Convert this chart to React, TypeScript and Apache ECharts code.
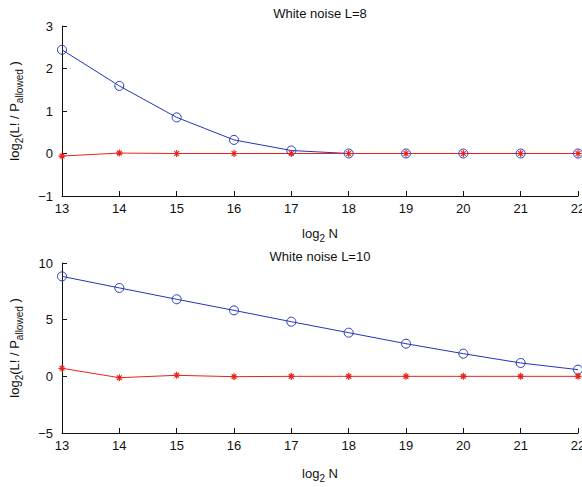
import React, { useEffect, useRef } from "react";
import * as echarts from "echarts";

const logN = [13, 14, 15, 16, 17, 18, 19, 20, 21, 22];
const l8Blue = [2.44, 1.59, 0.85, 0.32, 0.07, 0.0, 0.0, 0.0, 0.0, 0.0];
const l8Red = [-0.06, 0.01, 0.0, 0.0, 0.0, 0.0, 0.0, 0.0, 0.0, 0.0];
const l10Blue = [8.82, 7.8, 6.8, 5.82, 4.82, 3.85, 2.88, 2.0, 1.18, 0.59];
const l10Red = [0.71, -0.12, 0.09, -0.03, 0.0, 0.0, 0.0, 0.0, 0.0, 0.0];
const titles = ["White noise L=8", "White noise L=10"];

const FONT = "'Liberation Sans', Arial, Helvetica, sans-serif";
const BLUE = "#2436b8";
const RED = "#e8231f";
const STAR = "path://M5,0L5,10M0,5L10,5M1.6,1.6L8.4,8.4M1.6,8.4L8.4,1.6";

const fmt = (v: number) => String(v).replace("-", "\u2212");

const rich = {
  a: { fontSize: 13, fontFamily: FONT, color: "#111", lineHeight: 20, verticalAlign: "middle" as const },
  s: { fontSize: 10, fontFamily: FONT, color: "#111", lineHeight: 20, verticalAlign: "bottom" as const },
};

function pairs(ys: number[]) {
  return logN.map((x, i) => [x, ys[i]]);
}

export default function App() {
  const ref = useRef<HTMLDivElement>(null);
  useEffect(() => {
    if (!ref.current) return;
    const chart = echarts.init(ref.current, undefined, { renderer: "svg" });
    const xAxisBase = {
      type: "value" as const,
      min: 13,
      max: 22,
      interval: 1,
      splitLine: { show: false },
      axisLine: { onZero: false, lineStyle: { color: "#111", width: 1 } },
      axisTick: { inside: true, length: 5, lineStyle: { color: "#111" } },
      axisLabel: { fontSize: 13, fontFamily: FONT, color: "#111", margin: 6, formatter: fmt, showMaxLabel: true, hideOverlap: false },
      name: "{a|log}{s|2}{a| N}",
      nameLocation: "middle" as const,
      nameTextStyle: { rich },
    };
    const yAxisBase = {
      type: "value" as const,
      splitLine: { show: false },
      axisLine: { show: true, lineStyle: { color: "#111", width: 1 } },
      axisTick: { show: true, inside: true, length: 5, lineStyle: { color: "#111" } },
      axisLabel: { fontSize: 13, fontFamily: FONT, color: "#111", margin: 9, formatter: fmt },
      name: "{a|log}{s|2}{a|(L! / P}{s|allowed}{a| )}",
      nameLocation: "middle" as const,
      nameGap: 38,
      nameTextStyle: { rich },
    };
    const titleStyle = { fontSize: 13, fontWeight: "normal" as const, fontFamily: FONT, color: "#111" };
    chart.setOption({
      animation: false,
      backgroundColor: "#fff",
      title: [
        { text: titles[0], left: 320, top: 7, padding: 0, textAlign: "center", textStyle: titleStyle },
        { text: titles[1], left: 320, top: 250, padding: 0, textAlign: "center", textStyle: titleStyle },
      ],
      grid: [
        { left: 62, right: 4, top: 26, height: 170, outerBoundsMode: "none", containLabel: false },
        { left: 62, right: 4, top: 263, height: 170, outerBoundsMode: "none", containLabel: false },
      ],
      xAxis: [
        { ...xAxisBase, gridIndex: 0, nameGap: 27 },
        { ...xAxisBase, gridIndex: 1, nameGap: 30 },
      ],
      yAxis: [
        { ...yAxisBase, gridIndex: 0, min: -1, max: 3, interval: 1 },
        { ...yAxisBase, gridIndex: 1, min: -5, max: 10, interval: 5 },
      ],
      series: [
        {
          type: "line", xAxisIndex: 0, yAxisIndex: 0, data: pairs(l8Blue),
          symbol: "circle", symbolSize: 9,
          lineStyle: { color: BLUE, width: 1 },
          itemStyle: { color: "rgba(0,0,0,0)", borderColor: BLUE, borderWidth: 1 },
        },
        {
          type: "line", xAxisIndex: 0, yAxisIndex: 0, data: pairs(l8Red),
          symbol: STAR, symbolSize: 7,
          lineStyle: { color: RED, width: 1 },
          itemStyle: { color: RED, borderColor: RED, borderWidth: 1.2 },
        },
        {
          type: "line", xAxisIndex: 1, yAxisIndex: 1, data: pairs(l10Blue),
          symbol: "circle", symbolSize: 9,
          lineStyle: { color: BLUE, width: 1 },
          itemStyle: { color: "rgba(0,0,0,0)", borderColor: BLUE, borderWidth: 1 },
        },
        {
          type: "line", xAxisIndex: 1, yAxisIndex: 1, data: pairs(l10Red),
          symbol: STAR, symbolSize: 7,
          lineStyle: { color: RED, width: 1 },
          itemStyle: { color: RED, borderColor: RED, borderWidth: 1.2 },
        },
      ],
    });
    return () => chart.dispose();
  }, []);
  return (
    <div style={{ position: "fixed", left: 0, top: 0, width: 582, height: 487, background: "#fff" }}>
      <div ref={ref} style={{ width: 582, height: 487 }} />
    </div>
  );
}
